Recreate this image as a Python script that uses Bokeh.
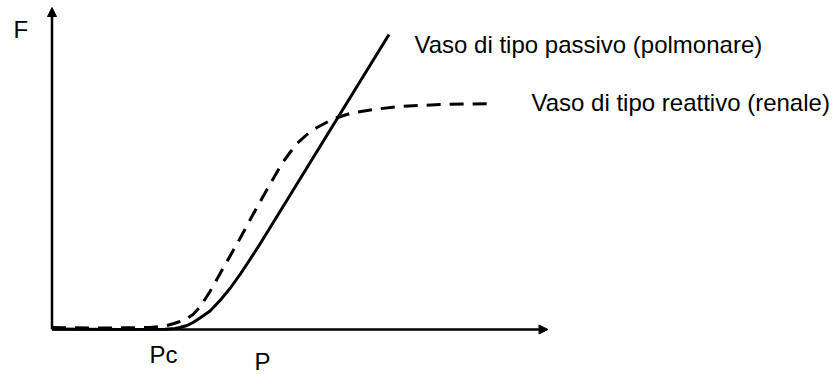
from bokeh.plotting import figure
from bokeh.models import Range1d, Arrow, NormalHead
from bokeh.core.properties import value
from bokeh.embed import file_html
from bokeh.resources import INLINE

# Flow (F) against pressure (P), arbitrary units; flow starts at the critical pressure Pc
p_passive = [0, 68, 113, 123, 128, 135, 141, 148, 158, 168, 178, 188, 198, 208, 337]
f_passive = [0.5, 0, 0.3, 1, 2, 4, 7, 11.5, 18.5, 29, 41, 55, 70, 85.5, 295]

p_reactive = [0, 48, 98, 108, 115, 122, 128, 135, 141, 148, 158, 175, 188, 201, 215,
              230, 238, 245, 255, 265, 281, 298, 321, 348, 388, 442]
f_reactive = [2, 1.5, 2, 3, 4, 6, 8, 11, 15, 22.5, 38, 68, 91, 115, 140,
              166, 177, 186, 195, 202, 210.5, 216, 220, 223, 225, 226]

label_passive = "Vaso di tipo passivo (polmonare)"
label_reactive = "Vaso di tipo reattivo (renale)"
axis_x_label = "P"
axis_y_label = "F"
critical_label = "Pc"

FONT = value("Liberation Sans")
SIZE = "24px"

p = figure(width=834, height=374, output_backend="svg", toolbar_location=None,
           x_range=Range1d(-51.5, 782.5), y_range=Range1d(-45, 329),
           x_axis_type=None, y_axis_type=None, min_border=0,
           outline_line_color=None, background_fill_color="white",
           border_fill_color="white")
p.xgrid.visible = False
p.ygrid.visible = False

# hand-drawn style axes with arrow heads
p.add_layout(Arrow(end=NormalHead(size=9, fill_color="black", line_color="black"),
                   x_start=0, y_start=0, x_end=496, y_end=0,
                   line_width=2.5, line_color="black"))
p.add_layout(Arrow(end=NormalHead(size=9, fill_color="black", line_color="black"),
                   x_start=0, y_start=0, x_end=0, y_end=322,
                   line_width=2.5, line_color="black"))

p.line(p_passive, f_passive, line_width=3, line_color="black", line_join="round")
p.line(p_reactive, f_reactive, line_width=3, line_color="black",
       line_dash="14 9", line_join="round")


def label(x, y, txt):
    p.text(x=[x], y=[y], text=[txt], text_font=FONT, text_font_size=SIZE,
           text_baseline="alphabetic", text_color="black")


label(-38.5, 300, axis_y_label)
label(97.5, -25, critical_label)
label(202.5, -32, axis_x_label)
label(362.5, 285, label_passive)
label(479.5, 227, label_reactive)

open("out.html", "w").write(file_html(p, INLINE))
